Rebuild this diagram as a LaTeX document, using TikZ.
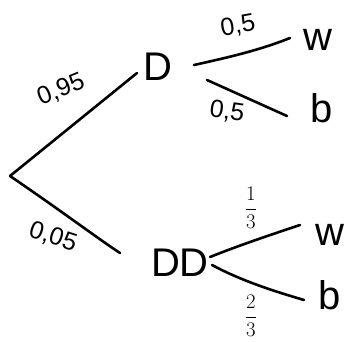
\documentclass[tikz,border=0pt]{standalone}
\usepackage{fontspec}
\setmainfont{Liberation Sans}
\begin{document}
\begin{tikzpicture}[x=1pt,y=-1pt,
  big/.style={inner sep=0pt,font=\fontsize{40}{42}\selectfont},
  lab/.style={inner sep=0pt,font=\fontsize{25}{27}\selectfont},
  frac/.style={inner sep=0pt,font=\fontsize{22}{24}\selectfont},
  br/.style={line width=2.6pt,line cap=round}]
\useasboundingbox (0,0) rectangle (350,341);
\coordinate (root) at (10,176);
\node[big] (D) at (158,67) {D};
\node[big] (DD) at (180,263) {DD};
\node[big] (w1) at (318,40) {w};
\node[big] (b1) at (322,108) {b};
\node[big] (w2) at (330,235) {w};
\node[big] (b2) at (330,295) {b};
\coordinate (a1) at (137,73);
\coordinate (a2) at (120,253);
\coordinate (d1s) at (194,65);
\coordinate (d1e) at (290,38);
\coordinate (d2s) at (207,80);
\coordinate (d2e) at (287,116);
\coordinate (e1s) at (210,257);
\coordinate (e1e) at (300,225);
\coordinate (e2s) at (212,265);
\coordinate (e2e) at (304,300);
\draw[br] (root) -- (a1);
\draw[br] (root) .. controls (60,210) and (100,240) .. (a2);
\draw[br] (d1s) .. controls (230,57) and (260,50) .. (d1e);
\draw[br] (d2s) -- (d2e);
\draw[br] (e1s) .. controls (240,245) and (270,235) .. (e1e);
\draw[br] (e2s) .. controls (240,280) and (270,290) .. (e2e);
\node[lab,rotate=22] (p1) at (61,90) {0,95};
\node[lab,rotate=-18] (p2) at (53,237) {0,05};
\node[lab,rotate=10] (p3) at (238,26) {0,5};
\node[lab,rotate=-8] (p4) at (227,112) {0,5};
\node[frac] (p5) at (251,208) {$\displaystyle\frac{1}{3}$};
\node[frac] (p6) at (251,316) {$\displaystyle\frac{2}{3}$};
\end{tikzpicture}
\end{document}
